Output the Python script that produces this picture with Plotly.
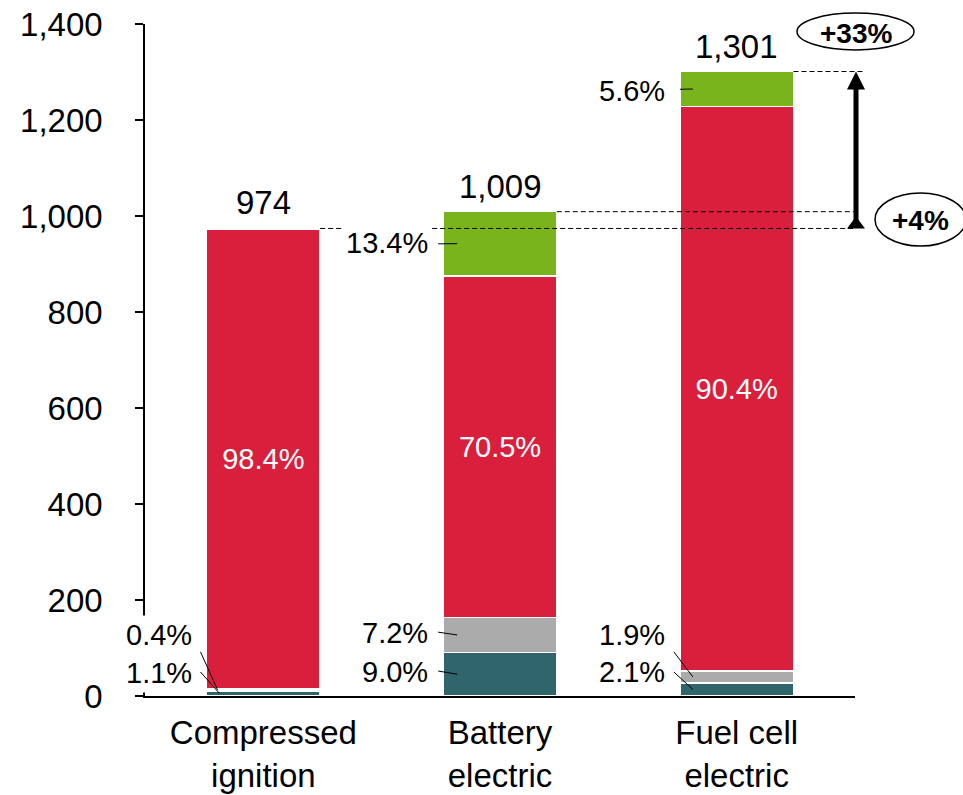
import plotly.graph_objects as go

# ---------------- data ----------------
categories = ["Compressed<br>ignition", "Battery<br>electric", "Fuel cell<br>electric"]
totals = [974, 1009, 1301]
share_teal = [1.1, 9.0, 2.1]
share_gray = [0.4, 7.2, 1.9]
share_red = [98.4, 70.5, 90.4]
share_green = [0.0, 13.4, 5.6]
y_tick_values = [0, 200, 400, 600, 800, 1000, 1200, 1400]
y_tick_labels = ["0", "200", "400", "600", "800", "1,000", "1,200", "1,400"]
change_labels = ["+33%", "+4%"]

# ---------------- styles ----------------
C_TEAL = "#31656C"
C_GRAY = "#ABABAB"
C_RED = "#DA1F3D"
C_GREEN = "#79B41D"
FONT = "Arial, Liberation Sans, sans-serif"
BAR_W = 0.48
PX_X = 710 / 3.0      # pixels per category unit
PX_Y = 672 / 1400.0   # pixels per value unit

def seg(total, shares):
    return [t * s / 100.0 for t, s in zip(total, shares)]

teal = seg(totals, share_teal)
gray = seg(totals, share_gray)
red = seg(totals, share_red)
green = seg(totals, share_green)

fig = go.Figure()
for vals, col, txt in [(teal, C_TEAL, None), (gray, C_GRAY, None),
                       (red, C_RED, [f"{s}%" for s in share_red]), (green, C_GREEN, None)]:
    fig.add_trace(go.Bar(
        x=categories, y=vals, width=BAR_W,
        marker=dict(color=col, line=dict(color="white", width=1.5)),
        text=txt, textposition="inside" if txt else "none",
        insidetextanchor="middle", textangle=0,
        textfont=dict(color="white", size=29, family=FONT),
        hoverinfo="skip",
    ))

def xp(xd):
    return (xd + 0.5) / 3.0

def yp(v):
    return v / 1400.0

# pixel helpers (relative to plot area: left edge at 145, bottom at 696)
def pxp(px):
    return (px - 145) / 710.0

def pyp(py):
    return (696 - py) / 672.0

shapes = []
annotations = []

# totals above bars
for i, t in enumerate(totals):
    annotations.append(dict(x=i, y=t, xref="x", yref="y", text=f"{t:,}", showarrow=False,
                            yanchor="bottom", yshift=5, font=dict(size=33, family=FONT, color="black")))

bottoms = []
for i in range(3):
    b_teal = 0
    b_gray = teal[i]
    b_red = teal[i] + gray[i]
    b_green = b_red + red[i]
    bottoms.append((b_teal, b_gray, b_red, b_green))

def center(i, k):
    vals = [teal, gray, red, green][k]
    return bottoms[i][k] + vals[i] / 2.0

# (category index, share, label y, leader start (px from bar left, y), leader end (px from bar left, y))
side = [
    (0, share_gray[0], 127, (-6, 92), (11, center(0, 1))),
    (0, share_teal[0], 48, (-6, 50), (13, center(0, 0))),
    (1, share_gray[1], 131, (-5, 133), (14, center(1, 1))),
    (1, share_teal[1], 50, (-5, 52), (14, center(1, 0))),
    (1, share_green[1], 944, (-5, 942), (14, center(1, 3))),
    (2, share_gray[2], 127, (-6, 92), (13, center(2, 1))),
    (2, share_teal[2], 50, (-6, 50), (13, center(2, 0))),
    (2, share_green[2], 1260, (0, 1264), (13, center(2, 3))),
]
for i, s, ly, st, en in side:
    left = i - BAR_W / 2
    annotations.append(dict(x=left - 11 / PX_X, y=ly, xref="x", yref="y", text=f"{s}%",
                            showarrow=False, xanchor="right", yanchor="middle",
                            bgcolor="white", borderpad=3,
                            font=dict(size=29, family=FONT, color="black")))
    shapes.append(dict(type="line", xref="x", yref="y",
                       x0=left + st[0] / PX_X, y0=st[1], x1=left + en[0] / PX_X, y1=en[1],
                       line=dict(color="black", width=1)))

# dashed reference lines
ax_x = pxp(856)
dash = "5px,3px"
shapes.append(dict(type="line", xref="paper", yref="paper", x0=xp(0 + BAR_W / 2), x1=ax_x,
                   y0=yp(totals[0]), y1=yp(totals[0]), line=dict(color="black", width=1, dash=dash)))
shapes.append(dict(type="line", xref="paper", yref="paper", x0=xp(1 + BAR_W / 2), x1=ax_x,
                   y0=yp(totals[1]), y1=yp(totals[1]), line=dict(color="black", width=1, dash=dash)))
shapes.append(dict(type="line", xref="paper", yref="paper", x0=xp(2 + BAR_W / 2), x1=pxp(863),
                   y0=yp(totals[2]), y1=yp(totals[2]), line=dict(color="black", width=1, dash=dash)))

# arrow
top = yp(totals[2])
bot = yp(totals[0])
shapes.append(dict(type="line", xref="paper", yref="paper", x0=ax_x, x1=ax_x,
                   y0=bot + 5 / 672, y1=top - 10 / 672, line=dict(color="black", width=5)))
hw = 9 / 710
shapes.append(dict(type="path", xref="paper", yref="paper",
                   path=f"M {ax_x} {top} L {ax_x - hw} {top - 18/672} L {ax_x + hw} {top - 18/672} Z",
                   fillcolor="black", line=dict(color="black", width=0)))
shapes.append(dict(type="path", xref="paper", yref="paper",
                   path=f"M {ax_x} {bot + 12/672} L {ax_x - hw} {bot} L {ax_x + hw} {bot} Z",
                   fillcolor="black", line=dict(color="black", width=0)))

# ellipses with change labels
shapes.append(dict(type="circle", xref="paper", yref="paper", x0=pxp(797), x1=pxp(914),
                   y0=pyp(50), y1=pyp(13), line=dict(color="black", width=1.5)))
shapes.append(dict(type="circle", xref="paper", yref="paper", x0=pxp(875), x1=pxp(966),
                   y0=pyp(246), y1=pyp(193), line=dict(color="black", width=1.5)))
annotations.append(dict(x=pxp(856), y=pyp(34), xref="paper", yref="paper",
                        xanchor="center", yanchor="middle",
                        text=f"<b>{change_labels[0]}</b>", showarrow=False,
                        font=dict(size=28, family=FONT, color="black")))
annotations.append(dict(x=pxp(920), y=pyp(221), xref="paper", yref="paper",
                        xanchor="center", yanchor="middle",
                        text=f"<b>{change_labels[1]}</b>", showarrow=False,
                        font=dict(size=28, family=FONT, color="black")))

# x-axis line extension to the left of the y-axis
shapes.append(dict(type="line", xref="paper", yref="paper", x0=-10 / 710, x1=0, y0=0, y1=0,
                   line=dict(color="black", width=2)))

fig.update_layout(
    width=963, height=795,
    margin=dict(l=145, r=108, t=24, b=99),
    barmode="stack", bargap=0.52,
    showlegend=False,
    plot_bgcolor="white", paper_bgcolor="white",
    font=dict(family=FONT, color="black"),
    shapes=shapes, annotations=annotations,
    xaxis=dict(type="category", range=[-0.5, 2.5], showline=True, linecolor="black", linewidth=2,
               ticks="", showgrid=False, tickfont=dict(size=33, family=FONT, color="black"),
               ticklabelstandoff=6, automargin=False, ticklabeloverflow="allow"),
    yaxis=dict(range=[0, 1400], tickvals=y_tick_values, ticktext=y_tick_labels, showline=True,
               linecolor="black", linewidth=1.5, ticks="outside", ticklen=8, tickwidth=1.5,
               tickcolor="black", showgrid=False, zeroline=False, automargin=False,
               ticklabeloverflow="allow",
               tickfont=dict(size=33, family=FONT, color="black"), ticklabelstandoff=26),
)

# remove the default page margin so the figure fills the window from its top-left corner
fig.write_html("out.html", config={"displayModeBar": False},
               post_script="document.body.style.margin='0px';")
